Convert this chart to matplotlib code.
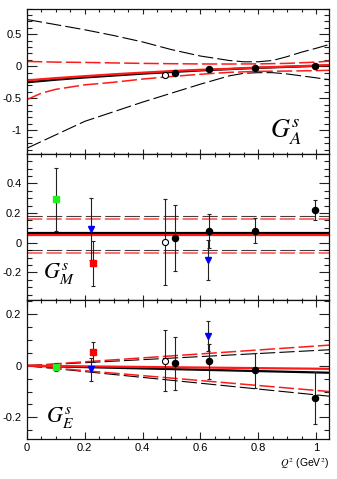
import matplotlib
matplotlib.use("Agg")
import matplotlib.pyplot as plt
from matplotlib.ticker import MultipleLocator, FuncFormatter

plt.rcParams['font.family'] = ['Liberation Sans', 'DejaVu Sans']
plt.rcParams['mathtext.fontset'] = 'stix'
plt.rcParams['axes.unicode_minus'] = False
plt.rcParams['lines.scale_dashes'] = False

XMAX = 1.046

# ---------------- G_A^s panel ----------------
ga_fit_x = [0, 0.1, 0.2, 0.3, 0.4, 0.5, 0.6, 0.7, 0.8, 0.9, 1.0, 1.046]
ga_black = [-0.25, -0.21, -0.175, -0.145, -0.115, -0.09, -0.065, -0.045, -0.025, -0.01, 0.005, 0.012]
ga_red = [-0.22, -0.185, -0.155, -0.125, -0.10, -0.075, -0.055, -0.04, -0.02, -0.005, 0.01, 0.02]

ga_band_x = [0, 0.1, 0.2, 0.3, 0.4, 0.5, 0.6, 0.7, 0.75, 0.8, 0.85, 0.9, 0.95, 1.0, 1.046]
ga_black_up = [0.73, 0.65, 0.57, 0.48, 0.38, 0.26, 0.16, 0.09, 0.07, 0.07, 0.09, 0.15, 0.22, 0.28, 0.34]
ga_black_lo = [-1.28, -1.07, -0.86, -0.71, -0.56, -0.42, -0.28, -0.15, -0.11, -0.10, -0.10, -0.12, -0.15, -0.18, -0.21]

ga_red_x = [0, 0.05, 0.1, 0.2, 0.3, 0.4, 0.5, 0.6, 0.7, 0.8, 0.9, 1.0, 1.046]
ga_red_up = [0.075, 0.07, 0.065, 0.06, 0.052, 0.045, 0.04, 0.036, 0.035, 0.037, 0.045, 0.065, 0.08]
ga_red_lo = [-0.52, -0.42, -0.36, -0.29, -0.25, -0.2, -0.16, -0.125, -0.095, -0.08, -0.075, -0.068, -0.063]

ga_pts_x = [0.511, 0.631, 0.788, 0.997]
ga_pts_y = [-0.11, -0.05, -0.03, 0.01]
ga_open_x = [0.477]
ga_open_y = [-0.135]

# ---------------- G_M^s panel ----------------
gm_black, gm_red = 0.068, 0.05
gm_black_up, gm_black_lo = 0.18, -0.047
gm_red_up, gm_red_lo = 0.162, -0.068

gm_black_px = [0.511, 0.631, 0.788, 0.997]
gm_black_py = [0.032, 0.081, 0.081, 0.221]
gm_black_pe = [0.225, 0.115, 0.083, 0.07]
gm_open_x, gm_open_y, gm_open_e = [0.477], [0.005], [0.293]
gm_green_x, gm_green_y, gm_green_e = [0.1], [0.293], [0.211]
gm_blue_x, gm_blue_y, gm_blue_e = [0.221, 0.627], [0.09, -0.115], [0.21, 0.135]
gm_redsq_x, gm_redsq_y, gm_redsq_e = [0.227], [-0.14], [0.15]

# ---------------- G_E^s panel ----------------
ge_line_x = [0, XMAX]
ge_black = [0, -0.027]
ge_red = [0, -0.012]
ge_black_up = [0, 0.062]
ge_black_lo = [0, -0.118]
ge_red_up = [0, 0.08]
ge_red_lo = [0, -0.10]

ge_black_px = [0.511, 0.631, 0.788, 0.997]
ge_black_py = [0.01, 0.018, -0.018, -0.126]
ge_black_pe = [0.103, 0.068, 0.068, 0.1]
ge_open_x, ge_open_y, ge_open_e = [0.477], [0.02], [0.117]
ge_green_x, ge_green_y, ge_green_e = [0.1], [-0.006], [0.015]
ge_blue_x, ge_blue_y, ge_blue_e = [0.221, 0.627], [-0.013, 0.115], [0.045, 0.058]
ge_redsq_x, ge_redsq_y, ge_redsq_e = [0.227], [0.054], [0.04]

xticks = [0, 0.2, 0.4, 0.6, 0.8, 1.0]

fig = plt.figure(figsize=(3.37, 4.79), dpi=100)
L, W = 0.080, 0.897
ax1 = fig.add_axes([L, 0.6785, W, 0.982 - 0.6785])
ax2 = fig.add_axes([L, 0.3737, W, 0.6785 - 0.3737])
ax3 = fig.add_axes([L, 0.0835, W, 0.3737 - 0.0835])

DASH = (0, (11, 3))
RED = '#ff1a1a'

def fmt(v, pos):
    return '%g' % round(v, 6)

def style(ax, ymaj, ymin, ylim, xlen):
    ax.set_xlim(0, XMAX)
    ax.set_ylim(*ylim)
    ax.xaxis.set_major_locator(MultipleLocator(0.2))
    ax.xaxis.set_minor_locator(MultipleLocator(0.05))
    ax.yaxis.set_major_locator(MultipleLocator(ymaj))
    ax.yaxis.set_minor_locator(MultipleLocator(ymin))
    ax.yaxis.set_major_formatter(FuncFormatter(fmt))
    ax.xaxis.set_major_formatter(FuncFormatter(fmt))
    ax.tick_params(axis='both', which='both', direction='in', top=True, right=True,
                   labelsize=8, width=0.8, color='#222222')
    ax.tick_params(axis='y', which='major', length=7.5, pad=4)
    ax.tick_params(axis='y', which='minor', length=3.6)
    ax.tick_params(axis='x', which='major', length=xlen, pad=3)
    ax.tick_params(axis='x', which='minor', length=xlen / 2)
    for s in ax.spines.values():
        s.set_linewidth(0.9)
        s.set_color('#111111')

# ---- top panel
ax = ax1
ax.plot(ga_band_x, ga_black_up, color='black', lw=0.8, ls=DASH)
ax.plot(ga_band_x, ga_black_lo, color='black', lw=0.8, ls=DASH)
ax.plot(ga_red_x, ga_red_up, color=RED, lw=1.1, ls=DASH)
ax.plot(ga_red_x, ga_red_lo, color=RED, lw=1.1, ls=DASH)
ax.plot(ga_fit_x, ga_black, color='black', lw=1.6)
ax.plot(ga_fit_x, ga_red, color=RED, lw=1.6)
ax.plot(ga_pts_x, ga_pts_y, 'o', color='black', ms=4.4)
ax.plot(ga_open_x, ga_open_y, 'o', mfc='white', mec='black', mew=0.8, ms=4.4)
style(ax, 0.5, 0.1, (-1.37, 0.9), 3.6)
ax.tick_params(axis='x', labelbottom=False)
ax.text(0.804, 0.11, r'$G^{s}_{A}$', transform=ax.transAxes, fontsize=19, ha='left', va='baseline')

# ---- middle panel
ax = ax2
for yv, c, lw in [(gm_black_up, 'black', 0.8), (gm_black_lo, 'black', 0.8),
                  (gm_red_up, RED, 1.1), (gm_red_lo, RED, 1.1)]:
    ax.plot([0, XMAX], [yv, yv], color=c, lw=lw, ls=DASH, alpha=0.75 if c == 'black' else 0.8)
ax.plot([0, XMAX], [gm_black, gm_black], color='black', lw=1.6)
ax.plot([0, XMAX], [gm_red, gm_red], color=RED, lw=1.6)
eb = dict(ecolor='#222222', elinewidth=0.8, capsize=1.3, capthick=0.8, ls='none')
ax.errorbar(gm_green_x, gm_green_y, yerr=gm_green_e, fmt='s', color='#22ee22', ms=3.9, **eb)
ax.errorbar(gm_blue_x, gm_blue_y, yerr=gm_blue_e, fmt='v', color='#0000ff', ms=5.0, **eb)
ax.errorbar(gm_redsq_x, gm_redsq_y, yerr=gm_redsq_e, fmt='s', color='#ff0000', ms=3.9, **eb)
ax.errorbar(gm_open_x, gm_open_y, yerr=gm_open_e, fmt='o', mfc='white', mec='black', mew=0.8, ms=4.4, **eb)
ax.errorbar(gm_black_px, gm_black_py, yerr=gm_black_pe, fmt='o', color='black', ms=4.4, **eb)
style(ax, 0.2, 0.05, (-0.387, 0.599), 3.6)
ax.tick_params(axis='x', labelbottom=False)
ax.text(0.053, 0.151, r'$G^{s}_{M}$', transform=ax.transAxes, fontsize=16, ha='left', va='baseline')

# ---- bottom panel
ax = ax3
ax.plot(ge_line_x, ge_black_up, color='black', lw=0.8, ls=DASH)
ax.plot(ge_line_x, ge_black_lo, color='black', lw=0.8, ls=DASH)
ax.plot(ge_line_x, ge_red_up, color=RED, lw=1.1, ls=DASH)
ax.plot(ge_line_x, ge_red_lo, color=RED, lw=1.1, ls=DASH)
ax.plot(ge_line_x, ge_black, color='black', lw=1.6)
ax.plot(ge_line_x, ge_red, color=RED, lw=1.6)
ax.errorbar(ge_green_x, ge_green_y, yerr=ge_green_e, fmt='s', color='#22ee22', ms=3.9, **eb)
ax.errorbar(ge_redsq_x, ge_redsq_y, yerr=ge_redsq_e, fmt='s', color='#ff0000', ms=3.9, **eb)
ax.errorbar(ge_blue_x, ge_blue_y, yerr=ge_blue_e, fmt='v', color='#0000ff', ms=5.0, **eb)
ax.errorbar(ge_open_x, ge_open_y, yerr=ge_open_e, fmt='o', mfc='white', mec='black', mew=0.8, ms=4.4, **eb)
ax.errorbar(ge_black_px, ge_black_py, yerr=ge_black_pe, fmt='o', color='black', ms=4.4, **eb)
style(ax, 0.2, 0.05, (-0.284, 0.255), 5.0)
ax.set_xticks(xticks)
ax.text(0.063, 0.124, r'$G^{s}_{E}$', transform=ax.transAxes, fontsize=16, ha='left', va='baseline')

fig.text(0.977, 0.033, r'$Q^2$ (GeV$^2$)', ha='right', va='center', fontsize=7.5)

fig.savefig('out.png', dpi=100)
